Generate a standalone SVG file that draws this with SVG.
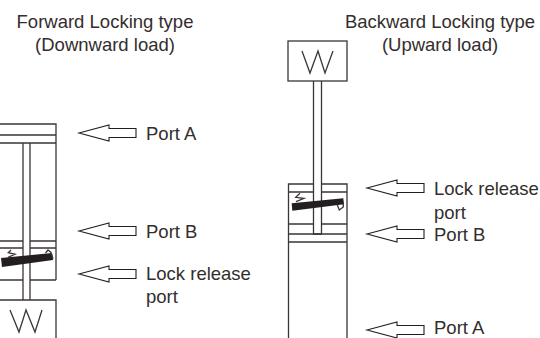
<svg xmlns="http://www.w3.org/2000/svg" width="540" height="338" viewBox="0 0 540 338">
<defs>
<style>
text{font-family:"Liberation Sans",Arial,sans-serif;font-size:18.5px;fill:#332e2d}
.m{text-anchor:middle}
.l{fill:none;stroke:#3a3634;stroke-width:1.3}
.a{fill:#fff;stroke:#231f20;stroke-width:1.1}
.b{fill:#231f20;stroke:none}
</style>
<polygon id="arrow" class="a" points="0,0 30,-8 30,-4.500 57,-4.500 57,4.500 30,4.500 30,8"/>
</defs>
<rect width="540" height="338" fill="#fff"/>
<g id="title-forward"><text class="m" x="105" y="28">Forward Locking type</text><text class="m" x="105" y="50.500">(Downward load)</text></g>
<g id="title-backward"><text class="m" x="440" y="28">Backward Locking type</text><text class="m" x="440" y="50.500">(Upward load)</text></g>
<g id="forward-cylinder">
<path class="l" d="M0 124H56V280M0 135H56M0 143H56M0 241H23M30 241H56M0 248H23M30 248H56M0 280H23M30 280H56M23 143V300M30 143V300"/>
<path class="b" d="M1 258L52 253L53 260L2 267Z"/>
<path class="l" d="M11 250L8.300 252.700L15 254.300L8 257.300M45.500 253L48 250L51 252.500L53 259"/>
<path class="l" d="M0 300H56V338"/>
<path class="l" d="M10 310L19 332L26 310L35 332L42 310"/>
</g>
<g id="backward-cylinder">
<rect class="l" x="288" y="41" width="59" height="40"/>
<path class="l" d="M302 51L310 73L318 51L325 73L333 51"/>
<path class="l" d="M313.500 81V234H321.500V81"/>
<path class="l" d="M288.500 338V184H313.500M321.500 184H347V338M288.500 192H313.500M321.500 192H347M288.500 224H313.500M321.500 224H347M288.500 234H347M288.500 242H347"/>
<path class="b" d="M291.700 203.300L343.300 198.300L344 204.300L292.300 210.700Z"/>
<path class="l" d="M300 193.300L295.700 197.300L304 198.300L296 201.700M337.300 205L339.300 210L343.300 207L343.300 204"/>
</g>
<g id="forward-ports">
<use href="#arrow" x="79" y="133"/><text x="146" y="140">Port A</text>
<use href="#arrow" x="79" y="231"/><text x="146" y="238">Port B</text>
<use href="#arrow" x="79" y="274"/><text x="146" y="280">Lock release</text><text x="146" y="303">port</text>
</g>
<g id="backward-ports">
<use href="#arrow" x="367" y="188"/><text x="434" y="195">Lock release</text><text x="434" y="219">port</text>
<use href="#arrow" x="367" y="234"/><text x="434" y="241">Port B</text>
<use href="#arrow" x="367" y="330"/><text x="434" y="334">Port A</text>
</g>
</svg>
